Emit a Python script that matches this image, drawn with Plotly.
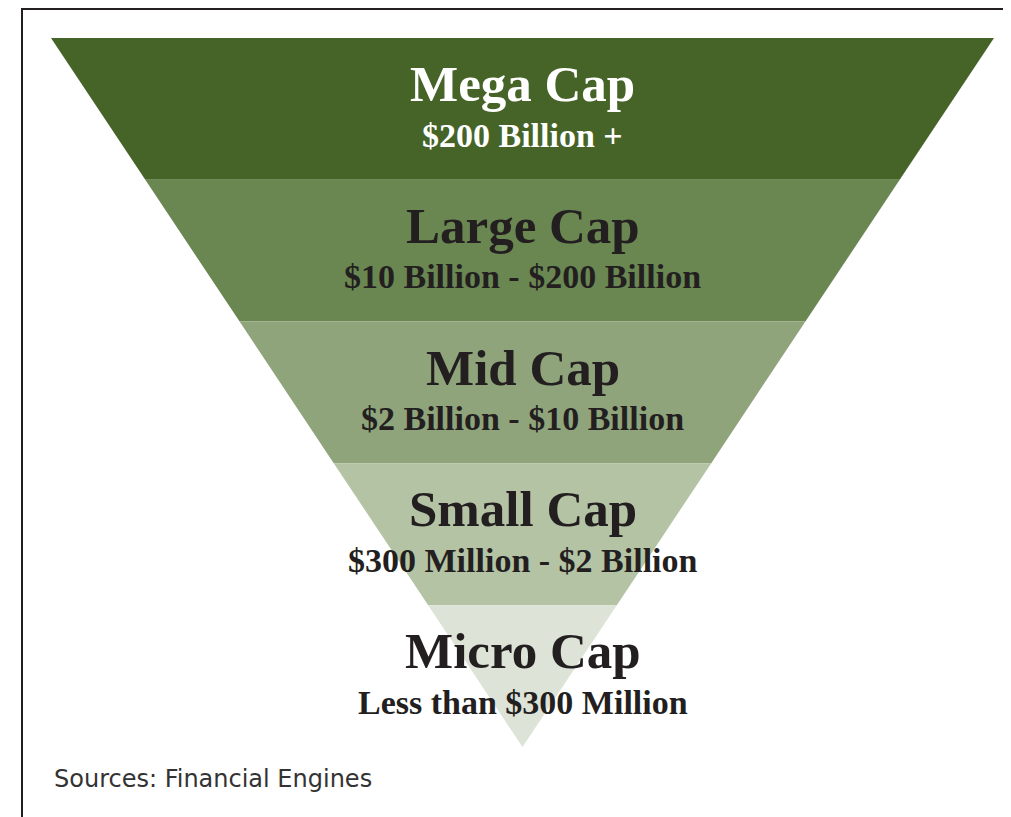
# plot.py - pirámide invertida de capitalización bursátil

import plotly.graph_objects as go

# datos
tiers = ["Mega Cap", "Large Cap", "Mid Cap", "Small Cap", "Micro Cap"]
ranges = [
    "$200 Billion +",
    "$10 Billion - $200 Billion",
    "$2 Billion - $10 Billion",
    "$300 Million - $2 Billion",
    "Less than $300 Million",
]
fill_colors = ["#466428", "#6a8752", "#8fa47b", "#b5c3a5", "#dde3d6"]
text_colors = ["#ffffff", "#231f20", "#231f20", "#231f20", "#231f20"]
source = "Sources: Financial Engines"

# geometría del triángulo (coordenadas de página, px)
W, H = 1011, 817
BODY = 8  # margen por defecto del <body> en la página
TOP, APEX = 38, 747
LEFT, RIGHT = 51, 994
CX = (LEFT + RIGHT) / 2


def half_width(y):
    return (RIGHT - LEFT) / 2 * (APEX - y) / (APEX - TOP)


band_h = (APEX - TOP) / len(tiers)

fig = go.Figure()

for i, (name, color) in enumerate(zip(tiers, fill_colors)):
    y0 = TOP + i * band_h
    y1 = y0 + band_h
    fig.add_trace(go.Scatter(
        x=[CX - half_width(y0), CX + half_width(y0), CX + half_width(y1), CX - half_width(y1)],
        y=[y0, y0, y1, y1],
        fill="toself",
        fillcolor=color,
        mode="lines",
        line=dict(width=0, color=color),
        hoverinfo="text",
        text=name,
        showlegend=False,
    ))

annotations = []
for i, (name, rng, tc) in enumerate(zip(tiers, ranges, text_colors)):
    y0 = TOP + i * band_h
    annotations.append(dict(
        x=CX, y=y0 + 46, text=f"<b>{name}</b>", showarrow=False,
        xanchor="center", yanchor="middle",
        font=dict(family="Liberation Serif", size=51, color=tc),
    ))
    annotations.append(dict(
        x=CX, y=y0 + 97, text=f"<b>{rng}</b>", showarrow=False,
        xanchor="center", yanchor="middle",
        font=dict(family="Liberation Serif", size=34, color=tc),
    ))

annotations.append(dict(
    x=52, y=779, text=source, showarrow=False,
    xanchor="left", yanchor="middle",
    font=dict(family="DejaVu Sans", size=24, color="#333333"),
))

# marco (línea superior e izquierda)
shapes = [
    dict(type="line", x0=22, x1=W, y0=BODY + 1, y1=BODY + 1, line=dict(color="#231f20", width=2)),
    dict(type="line", x0=22, x1=22, y0=BODY, y1=H, line=dict(color="#231f20", width=2)),
]

fig.update_layout(
    width=W - BODY,
    height=H - BODY,
    margin=dict(l=0, r=0, t=0, b=0),
    paper_bgcolor="white",
    plot_bgcolor="white",
    xaxis=dict(range=[BODY, W], visible=False, fixedrange=True),
    yaxis=dict(range=[H, BODY], visible=False, fixedrange=True),
    annotations=annotations,
    shapes=shapes,
)

fig.write_html("out.html")
